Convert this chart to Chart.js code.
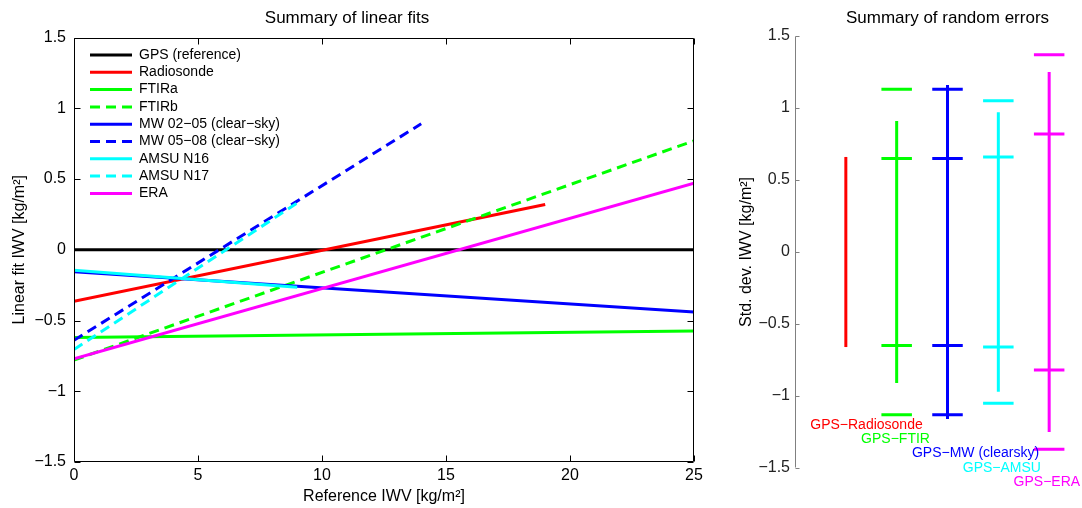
<!DOCTYPE html>
<html>
<head>
<meta charset="utf-8">
<script src="https://cdn.jsdelivr.net/npm/chart.js@4.4.1/dist/chart.umd.min.js"></script>
<style>
  html, body { margin: 0; padding: 0; background: #fff; overflow: hidden; }
  #fits { position: absolute; left: 0; top: 0; }
  #errors { position: absolute; left: 720px; top: 0; }
</style>
</head>
<body>
<canvas id="fits" width="720" height="508"></canvas>
<canvas id="errors" width="380" height="508"></canvas>
<script>
// left panel: each fit runs from x = 0 to fitEndX
const fitNames = [
	"GPS (reference)",
	"Radiosonde",
	"FTIRa",
	"FTIRb",
	"MW 02\u221205 (clear\u2212sky)",
	"MW 05\u221208 (clear\u2212sky)",
	"AMSU N16",
	"AMSU N17",
	"ERA",
];
const fitEndX = [25, 19, 25, 25, 25, 14, 9, 9, 25];
const fitStartY = [0, -0.365, -0.62, -0.78, -0.155, -0.64, -0.145, -0.705, -0.77];
const fitEndY = [0, 0.32, -0.575, 0.77, -0.44, 0.89, -0.265, 0.33, 0.47];
const fitColors = ["#000000", "#ff0000", "#00ff00", "#00ff00", "#0000ff", "#0000ff", "#00ffff", "#00ffff", "#ff00ff"];
const fitDashed = [false, false, false, true, false, true, false, true, false];
const fitXTicks = [0, 5, 10, 15, 20, 25];
const fitYTicks = [-1.5, -1, -0.5, 0, 0.5, 1, 1.5];

// right panel: spread bar plus +/- marks per comparison
const groupLabels = ["GPS\u2212Radiosonde", "GPS\u2212FTIR", "GPS\u2212MW (clearsky)", "GPS\u2212AMSU", "GPS\u2212ERA"];
const groupPos = [1, 2, 3, 4, 5];
const spreadHalf = [0.66, 0.91, 1.16, 0.97, 1.25];
const innerMark = [null, 0.65, 0.65, 0.66, 0.82];
const outerMark = [null, 1.13, 1.13, 1.05, 1.37];
const groupLabelY = [-1.2, -1.3, -1.4, -1.5, -1.6];
const groupColors = ["#ff0000", "#00ff00", "#0000ff", "#00ffff", "#ff00ff"];
const errYTicks = [-1.5, -1, -0.5, 0, 0.5, 1, 1.5];

const MARK_HALF = 0.3;

Chart.defaults.font.family = '"Liberation Sans", Arial, Helvetica, sans-serif';
Chart.defaults.color = "#000";
Chart.defaults.animation = false;

const minus = (v) => String(v).replace("-", "\u2212");

function groupSegments(i) {
	let p = groupPos[i];
	let pts = [
		{ x: p, y: -spreadHalf[i] },
		{ x: p, y: spreadHalf[i] },
	];
	[innerMark[i], outerMark[i]].forEach((m) => {
		if (m === null) return;
		[m, -m].forEach((v) => {
			pts.push({ x: p, y: null }, { x: p - MARK_HALF, y: v }, { x: p + MARK_HALF, y: v });
		});
	});
	return pts;
}

// matlab style ticks pointing into the axes
const inwardTicks = {
	id: "inwardTicks",
	afterDatasetsDraw(chart, args, opts) {
		let { ctx, chartArea: a } = chart;
		let xs = chart.scales.x;
		let ys = chart.scales.y;
		let len = opts.length;
		ctx.save();
		ctx.strokeStyle = opts.color;
		ctx.lineWidth = 1;
		ctx.beginPath();
		let l = Math.round(a.left) + 0.5;
		let r = Math.round(a.right) - 0.5;
		let t = Math.round(a.top) + 0.5;
		let b = Math.round(a.bottom) - 0.5;
		if (opts.box) {
			ctx.rect(l, t, r - l, b - t);
			xs.ticks.forEach((tk) => {
				let px = Math.round(xs.getPixelForValue(tk.value)) + 0.5;
				ctx.moveTo(px, b);
				ctx.lineTo(px, b - len);
				ctx.moveTo(px, t);
				ctx.lineTo(px, t + len);
			});
		} else {
			ctx.moveTo(l, t);
			ctx.lineTo(l, b);
		}
		ys.ticks.forEach((tk) => {
			let py = Math.round(ys.getPixelForValue(tk.value)) + 0.5;
			ctx.moveTo(l, py);
			ctx.lineTo(l + len, py);
			if (opts.box) {
				ctx.moveTo(r, py);
				ctx.lineTo(r - len, py);
			}
		});
		ctx.stroke();
		ctx.restore();
	},
};

// put the legend inside the axes, top left
const legendInset = {
	id: "legendInset",
	afterLayout(chart, args, opts) {
		let lg = chart.legend;
		if (!lg) return;
		lg.left = chart.chartArea.left + opts.dx;
		lg.top = chart.chartArea.top + opts.dy;
		lg.right = lg.left + lg.width;
		lg.bottom = lg.top + lg.height;
	},
};

const groupText = {
	id: "groupText",
	afterDraw(chart, args, opts) {
		let { ctx, scales } = chart;
		ctx.save();
		ctx.font = opts.font;
		ctx.textAlign = "left";
		ctx.textBaseline = "middle";
		groupLabels.forEach((label, i) => {
			ctx.fillStyle = groupColors[i];
			ctx.fillText(
				label,
				scales.x.getPixelForValue(groupPos[i] + opts.shift),
				scales.y.getPixelForValue(groupLabelY[i])
			);
		});
		ctx.restore();
	},
};

const fitsChart = new Chart(document.getElementById("fits"), {
	type: "line",
	data: {
		datasets: fitNames.map((name, i) => ({
			label: name,
			data: [
				{ x: 0, y: fitStartY[i] },
				{ x: fitEndX[i], y: fitEndY[i] },
			],
			borderColor: fitColors[i],
			backgroundColor: fitColors[i],
			borderWidth: 3,
			borderDash: fitDashed[i] ? [10, 6] : [],
			pointRadius: 0,
			order: fitNames.length - i,
		})),
	},
	options: {
		responsive: false,
		layout: { padding: { left: 0, right: 26, top: 0, bottom: 0 } },
		scales: {
			x: {
				type: "linear",
				min: 0,
				max: 25,
				afterBuildTicks: (s) => {
					s.ticks = fitXTicks.map((v) => ({ value: v }));
				},
				afterFit: (s) => {
					s.height = 46;
				},
				grid: { display: false, drawTicks: false },
				border: { display: false },
				ticks: { font: { size: 16 }, padding: 4.4, maxRotation: 0, autoSkip: false, callback: minus },
				title: {
					display: true,
					text: "Reference IWV [kg/m\u00b2]",
					font: { size: 16 },
					padding: { top: 0, bottom: 1.4 },
				},
			},
			y: {
				type: "linear",
				min: -1.5,
				max: 1.5,
				afterBuildTicks: (s) => {
					s.ticks = fitYTicks.map((v) => ({ value: v }));
				},
				afterFit: (s) => {
					s.width = 74;
				},
				grid: { display: false, drawTicks: false },
				border: { display: false },
				ticks: { font: { size: 16 }, padding: 8, autoSkip: false, callback: minus },
				title: {
					display: true,
					text: "Linear fit IWV [kg/m\u00b2]",
					font: { size: 16 },
					padding: { top: 10.4, bottom: 0 },
				},
			},
		},
		plugins: {
			title: {
				display: true,
				text: "Summary of linear fits",
				font: { size: 17, weight: "normal" },
				color: "#000",
				padding: { top: 7.8, bottom: 9.3 },
			},
			legend: {
				position: "chartArea",
				align: "start",
				labels: {
					font: { size: 14 },
					color: "#000",
					padding: 3.3,
					usePointStyle: true,
					pointStyleWidth: 42,
					generateLabels: (chart) =>
						chart.data.datasets.map((ds, i) => ({
							text: ds.label,
							fillStyle: ds.borderColor,
							strokeStyle: ds.borderColor,
							lineWidth: 3,
							lineDash: ds.borderDash,
							pointStyle: "line",
							fontColor: "#000",
							hidden: false,
							datasetIndex: i,
						})),
				},
			},
			tooltip: { enabled: false },
			inwardTicks: { color: "#000", length: 6, box: true },
			legendInset: { dx: 12.7, dy: 7.2 },
		},
	},
	plugins: [inwardTicks, legendInset],
});

const errorsChart = new Chart(document.getElementById("errors"), {
	type: "line",
	data: {
		datasets: groupLabels.map((name, i) => ({
			label: name,
			data: groupSegments(i),
			borderColor: groupColors[i],
			borderWidth: 3,
			pointRadius: 0,
			spanGaps: false,
		})),
	},
	options: {
		responsive: false,
		layout: { padding: { left: 0, right: 0, top: 0, bottom: 40 } },
		scales: {
			x: { type: "linear", display: false, min: 0, max: 6 },
			y: {
				type: "linear",
				min: -1.5,
				max: 1.5,
				afterBuildTicks: (s) => {
					s.ticks = errYTicks.map((v) => ({ value: v }));
				},
				afterFit: (s) => {
					s.width = 75;
				},
				grid: { display: false, drawTicks: false },
				border: { display: false },
				ticks: { font: { size: 16 }, padding: 5, color: "#222", autoSkip: false, callback: minus },
				title: {
					display: true,
					text: "Std. dev. IWV [kg/m\u00b2]",
					font: { size: 16 },
					padding: { top: 17.4, bottom: 0 },
				},
			},
		},
		plugins: {
			title: {
				display: true,
				fullSize: false,
				text: "Summary of random errors",
				font: { size: 17, weight: "normal" },
				color: "#000",
				padding: { top: 7.8, bottom: 7.8 },
			},
			legend: { display: false },
			tooltip: { enabled: false },
			inwardTicks: { color: "#808080", length: 4, box: false },
			groupText: { font: '14px "Liberation Sans", Arial, sans-serif', shift: -0.7 },
		},
	},
	plugins: [inwardTicks, groupText],
});
</script>
</body>
</html>
